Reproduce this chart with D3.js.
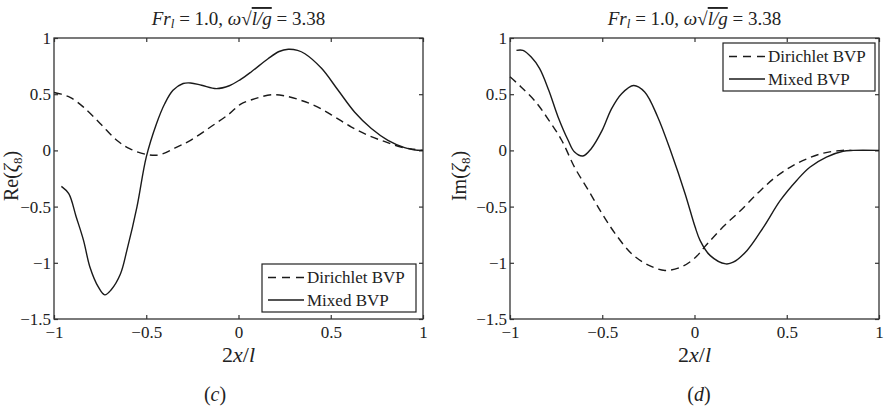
<!DOCTYPE html>
<html>
<head>
<meta charset="utf-8">
<script src="https://cdn.jsdelivr.net/npm/d3@7"></script>
<style>
  body { margin: 0; background: #fff; }
  text { font-family: "Liberation Serif", "DejaVu Serif", serif; fill: #222; }
</style>
</head>
<body>
<svg id="chart" width="885" height="406"></svg>
<script>
// values
const xTicks = [-1, -0.5, 0, 0.5, 1];
const xTickLabels = ["\u22121", "\u22120.5", "0", "0.5", "1"];
const yTicks = [-1.5, -1, -0.5, 0, 0.5, 1];
const yTickLabels = ["\u22121.5", "\u22121", "\u22120.5", "0", "0.5", "1"];
const seriesNames = ["Dirichlet BVP", "Mixed BVP"];

const reDirichlet = [[-1,0.515],[-0.96,0.5],[-0.91,0.47],[-0.84,0.385],[-0.75,0.24],[-0.66,0.09],
  [-0.59,0.015],[-0.5,-0.035],[-0.43,-0.04],[-0.34,0.025],[-0.26,0.09],[-0.15,0.21],[-0.05,0.325],
  [0.01,0.41],[0.09,0.46],[0.18,0.495],[0.25,0.485],[0.34,0.445],[0.43,0.385],[0.52,0.3],
  [0.61,0.21],[0.7,0.135],[0.79,0.08],[0.88,0.03],[0.95,0.01],[1,0]];

const reMixed = [[-0.96,-0.32],[-0.92,-0.385],[-0.88,-0.59],[-0.84,-0.8],[-0.805,-1.04],[-0.76,-1.215],
  [-0.725,-1.285],[-0.69,-1.24],[-0.64,-1.1],[-0.605,-0.89],[-0.55,-0.5],[-0.5,-0.06],[-0.445,0.235],
  [-0.4,0.415],[-0.355,0.535],[-0.3,0.595],[-0.26,0.6],[-0.2,0.58],[-0.12,0.55],[-0.05,0.575],
  [0.01,0.63],[0.07,0.7],[0.16,0.815],[0.22,0.88],[0.27,0.9],[0.32,0.89],[0.36,0.86],[0.45,0.73],
  [0.54,0.535],[0.63,0.34],[0.72,0.195],[0.81,0.09],[0.9,0.025],[0.95,0.005],[1,0]];

const imDirichlet = [[-1,0.655],[-0.94,0.565],[-0.86,0.43],[-0.79,0.27],[-0.72,0.09],[-0.65,-0.15],
  [-0.575,-0.355],[-0.5,-0.565],[-0.43,-0.74],[-0.34,-0.92],[-0.25,-1.02],[-0.16,-1.068],
  [-0.07,-1.035],[0,-0.96],[0.065,-0.84],[0.155,-0.68],[0.25,-0.535],[0.34,-0.385],[0.43,-0.25],
  [0.52,-0.148],[0.61,-0.074],[0.7,-0.024],[0.8,0],[0.85,0]];

const imMixed = [[-0.965,0.89],[-0.93,0.89],[-0.885,0.83],[-0.84,0.73],[-0.79,0.535],[-0.74,0.3],
  [-0.685,0.09],[-0.65,-0.015],[-0.605,-0.05],[-0.56,0.015],[-0.5,0.18],[-0.45,0.37],[-0.395,0.505],
  [-0.33,0.578],[-0.27,0.52],[-0.2,0.3],[-0.124,-0.03],[-0.051,-0.385],[0.003,-0.68],[0.03,-0.8],
  [0.084,-0.934],[0.17,-1.01],[0.21,-0.995],[0.285,-0.89],[0.375,-0.68],[0.465,-0.445],
  [0.555,-0.265],[0.625,-0.15],[0.715,-0.06],[0.805,-0.008],[0.86,0],[1,0]];

const svg = d3.select('#chart');
const plotTop = 38, plotBottom = 319;

function drawPanel(left, right, opts) {
  const x = d3.scaleLinear().domain([-1, 1]).range([left, right]);
  const y = d3.scaleLinear().domain([-1.5, 1]).range([plotBottom, plotTop]);
  const g = svg.append('g').attr('class', 'panel');

  const tk = (ax) => ax.tickSizeOuter(0);
  const bx = g.append('g').attr('transform', `translate(0,${plotBottom})`)
    .call(tk(d3.axisBottom(x).tickValues(xTicks).tickSizeInner(-4).tickPadding(7)
      .tickFormat((d, i) => xTickLabels[i])));
  const tx = g.append('g').attr('transform', `translate(0,${plotTop})`)
    .call(tk(d3.axisTop(x).tickValues(xTicks).tickSizeInner(-4).tickFormat('')));
  const ly = g.append('g').attr('transform', `translate(${left},0)`)
    .call(tk(d3.axisLeft(y).tickValues(yTicks).tickSizeInner(-4).tickPadding(3)
      .tickFormat((d, i) => yTickLabels[i])));
  const ry = g.append('g').attr('transform', `translate(${right},0)`)
    .call(tk(d3.axisRight(y).tickValues(yTicks).tickSizeInner(-4).tickFormat('')));
  [bx, tx, ly, ry].forEach(a => {
    a.attr('font-family', null);
    a.select('.domain').remove();
    a.selectAll('.tick line').attr('stroke', '#333').attr('stroke-width', 1.2);
    a.selectAll('text').attr('font-size', 17).attr('fill', '#222');
  });

  g.append('rect')
    .attr('x', left).attr('y', plotTop)
    .attr('width', right - left).attr('height', plotBottom - plotTop)
    .attr('fill', 'none').attr('stroke', '#333').attr('stroke-width', 1.3);

  const line = d3.line()
    .x(d => x(d[0])).y(d => y(d[1]))
    .curve(d3.curveCatmullRom.alpha(0.5));

  g.append('path').datum(opts.dirichlet)
    .attr('d', line).attr('fill', 'none')
    .attr('stroke', '#1a1a1a').attr('stroke-width', 1.4)
    .attr('stroke-dasharray', '8,5');
  g.append('path').datum(opts.mixed)
    .attr('d', line).attr('fill', 'none')
    .attr('stroke', '#1a1a1a').attr('stroke-width', 1.4);

  const cx = (left + right) / 2;

  // title
  const t = g.append('text').attr('x', cx).attr('y', 25)
    .attr('text-anchor', 'middle').attr('font-size', 19);
  t.append('tspan').attr('font-style', 'italic').text('Fr');
  t.append('tspan').attr('font-style', 'italic').attr('font-size', 13).attr('dy', 3).text('l');
  t.append('tspan').attr('dy', -3).text(' = 1.0, ');
  t.append('tspan').attr('font-style', 'italic').text('\u03c9');
  t.append('tspan').text('\u221a');
  t.append('tspan').attr('font-style', 'italic').style('text-decoration', 'overline').text('l/g');
  t.append('tspan').text(' = 3.38');

  // x label
  const xl = g.append('text').attr('x', cx).attr('y', 362)
    .attr('text-anchor', 'middle').attr('font-size', 22);
  xl.append('tspan').text('2');
  xl.append('tspan').attr('font-style', 'italic').text('x');
  xl.append('tspan').text('/');
  xl.append('tspan').attr('font-style', 'italic').text('l');

  // y label
  const yl = g.append('text')
    .attr('transform', `translate(${opts.ylabelX},176) rotate(-90)`)
    .attr('text-anchor', 'middle').attr('font-size', 20);
  yl.append('tspan').text(opts.ylabel + '(');
  yl.append('tspan').attr('font-style', 'italic').text('\u03b6');
  yl.append('tspan').attr('font-size', 13).attr('dy', 4).text('8');
  yl.append('tspan').attr('dy', -4).text(')');

  // panel letter
  const pl = g.append('text').attr('x', opts.letterX).attr('y', 401)
    .attr('text-anchor', 'middle').attr('font-size', 20);
  pl.append('tspan').text('(');
  pl.append('tspan').attr('font-style', 'italic').text(opts.letter);
  pl.append('tspan').text(')');

  // legend
  const lg = g.append('g').attr('transform', `translate(${opts.legend[0]},${opts.legend[1]})`);
  lg.append('rect').attr('width', opts.legend[2]).attr('height', 48)
    .attr('fill', '#fff').attr('stroke', '#222').attr('stroke-width', 1.2);
  seriesNames.forEach((name, i) => {
    const yy = 13.5 + i * 22.5;
    lg.append('line').attr('x1', 6).attr('x2', 42).attr('y1', yy).attr('y2', yy)
      .attr('stroke', '#1a1a1a').attr('stroke-width', 1.4)
      .attr('stroke-dasharray', i === 0 ? '8,6' : null);
    lg.append('text').attr('x', 45).attr('y', yy).attr('dy', '0.35em')
      .attr('font-size', 17).text(name);
  });
}

drawPanel(54, 423, {
  dirichlet: reDirichlet, mixed: reMixed, ylabel: 'Re', ylabelX: 18,
  letter: 'c', letterX: 215, legend: [262, 264, 154]
});
drawPanel(510, 879, {
  dirichlet: imDirichlet, mixed: imMixed, ylabel: 'Im', ylabelX: 466,
  letter: 'd', letterX: 699, legend: [723, 43, 152]
});
</script>
</body>
</html>
